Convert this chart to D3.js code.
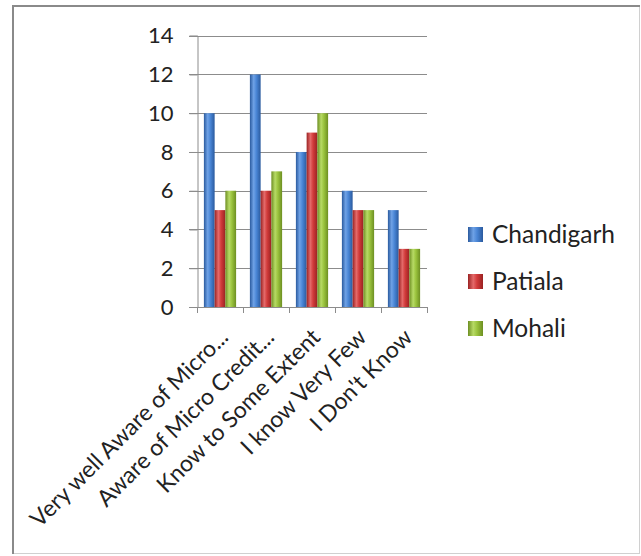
<!DOCTYPE html>
<html>
<head>
<meta charset="utf-8">
<script src="https://cdn.jsdelivr.net/npm/d3@7"></script>
<style>
  html, body { margin: 0; padding: 0; background: #fff; }
  svg { display: block; }
  text { font-family: Lato, "Open Sans", sans-serif; fill: #222; }
</style>
</head>
<body>
<script>
// Awareness of micro credit, responses by city
const categories = [
  "Very well Aware of Micro...",
  "Aware of Micro Credit...",
  "Know to Some Extent",
  "I know Very Few",
  "I Don't Know"
];
const seriesNames = ["Chandigarh", "Patiala", "Mohali"];
const chandigarh = [10, 12, 8, 6, 5];
const patiala = [5, 6, 9, 5, 3];
const mohali = [6, 7, 10, 5, 3];
const yTicks = [0, 2, 4, 6, 8, 10, 12, 14];

const seriesValues = [chandigarh, patiala, mohali];
const palette = [
  { dark: "#2a5a9e", mid: "#4a86d6", light: "#6fa2e6" },
  { dark: "#9a2222", mid: "#d23b3b", light: "#e46a6a" },
  { dark: "#6d8f22", mid: "#9bc43e", light: "#b7da66" }
];

const W = 641, H = 556;
const svg = d3.select("body").append("svg").attr("width", W).attr("height", H);

// frame
svg.append("rect").attr("x", 12.5).attr("y", 5.5).attr("width", 627).attr("height", 548)
  .attr("fill", "#fff").attr("stroke", "#d0d0d0").attr("stroke-width", 1);
svg.append("path").attr("d", "M13,554 L13,6 L640,6")
  .attr("fill", "none").attr("stroke", "#8a8a8a").attr("stroke-width", 2);

const defs = svg.append("defs");
palette.forEach((c, i) => {
  const g = defs.append("linearGradient").attr("id", "grad" + i)
    .attr("x1", "0%").attr("x2", "100%").attr("y1", "0%").attr("y2", "0%");
  g.append("stop").attr("offset", "0%").attr("stop-color", c.dark);
  g.append("stop").attr("offset", "35%").attr("stop-color", c.light);
  g.append("stop").attr("offset", "60%").attr("stop-color", c.mid);
  g.append("stop").attr("offset", "100%").attr("stop-color", c.dark);
});

const plot = { left: 197, right: 427, top: 35.7, bottom: 307 };

const x = d3.scaleBand().domain(categories).range([plot.left, plot.right])
  .paddingInner(0.3).paddingOuter(0.15);
const xs = d3.scaleBand().domain(d3.range(seriesNames.length)).range([0, x.bandwidth()]);
const y = d3.scaleLinear().domain([0, 14]).range([plot.bottom, plot.top]);

// gridlines
svg.append("g").selectAll("line").data(yTicks).join("line")
  .attr("x1", plot.left - 8).attr("x2", plot.right)
  .attr("y1", d => Math.round(y(d)) + 0.5).attr("y2", d => Math.round(y(d)) + 0.5)
  .attr("stroke", "#8c8c8c").attr("stroke-width", 1);

// y axis
const yAxis = svg.append("g").attr("transform", `translate(${plot.left + 0.5},0)`)
  .call(d3.axisLeft(y).tickValues(yTicks).tickSize(8).tickPadding(16));
yAxis.select(".domain").attr("stroke", "#8c8c8c");
yAxis.selectAll(".tick line").attr("stroke", "#8c8c8c");
yAxis.selectAll("text").style("font-size", "22px").attr("fill", "#222")
  .style("font-family", "Lato, 'Open Sans', sans-serif");

// x axis ticks at category boundaries
const step = (plot.right - plot.left) / categories.length;
const bounds = d3.range(categories.length + 1).map(i => plot.left + i * step);
svg.append("g").selectAll("line").data(bounds).join("line")
  .attr("x1", d => Math.round(d) + 0.5).attr("x2", d => Math.round(d) + 0.5)
  .attr("y1", plot.bottom).attr("y2", plot.bottom + 6)
  .attr("stroke", "#8c8c8c");
svg.append("line").attr("x1", plot.left).attr("x2", plot.right)
  .attr("y1", Math.round(y(0)) + 0.5).attr("y2", Math.round(y(0)) + 0.5)
  .attr("stroke", "#8c8c8c");

// bars
const groups = svg.append("g").selectAll("g").data(categories).join("g")
  .attr("transform", d => `translate(${x(d)},0)`);
groups.selectAll("rect").data((d, ci) => seriesValues.map((vals, si) => ({ si, v: vals[ci] })))
  .join("rect")
  .attr("x", d => xs(d.si))
  .attr("width", xs.bandwidth())
  .attr("y", d => y(d.v))
  .attr("height", d => y(0) - y(d.v))
  .attr("fill", d => `url(#grad${d.si})`);

// category labels, rotated
svg.append("g").selectAll("text").data(categories).join("text")
  .attr("transform", d => `translate(${x(d) + x.bandwidth() / 2 + 4},${plot.bottom + 26}) rotate(-45)`)
  .attr("text-anchor", "end")
  .attr("dy", "0.35em")
  .style("font-size", "23px")
  .text(d => d);

// legend
const legendY = [234, 281, 328];
const legend = svg.append("g").selectAll("g").data(seriesNames).join("g")
  .attr("transform", (d, i) => `translate(468,${legendY[i]})`);
legend.append("rect").attr("x", 0).attr("y", -7).attr("width", 15).attr("height", 15)
  .attr("fill", (d, i) => `url(#grad${i})`);
legend.append("text").attr("x", 24).attr("dy", "0.35em")
  .style("font-size", "24.5px").text(d => d);
</script>
</body>
</html>
